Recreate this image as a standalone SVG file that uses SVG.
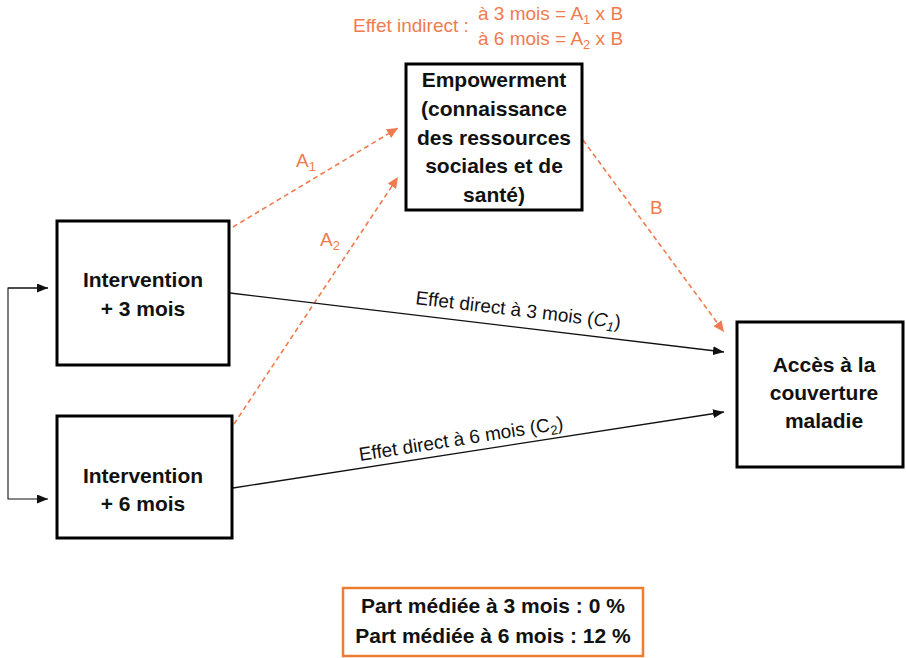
<svg xmlns="http://www.w3.org/2000/svg" width="906" height="658" viewBox="0 0 906 658">
<defs>
<style>
.box{fill:#fff;stroke:#000;stroke-width:3}
.nt{font-family:"Liberation Sans",Arial,sans-serif;font-weight:bold;font-size:21px;fill:#111;text-anchor:middle}
.or{font-family:"Liberation Sans",Arial,sans-serif;font-size:19px;fill:#F07B4E}
.lab{font-family:"Liberation Sans",Arial,sans-serif;font-size:19px;fill:#111}
.dash{fill:none;stroke:#F07B4E;stroke-width:1.6;stroke-dasharray:5 3.5}
.solid{fill:none;stroke:#111;stroke-width:1.3}
.thin{fill:none;stroke:#111;stroke-width:1.1}
</style>
<marker id="ao" markerUnits="userSpaceOnUse" markerWidth="12" markerHeight="10" refX="11" refY="5" orient="auto">
<path d="M0,0 L11,5 L0,10 z" fill="#F07B4E"/>
</marker>
<marker id="ab" markerUnits="userSpaceOnUse" markerWidth="12" markerHeight="9" refX="11" refY="4.5" orient="auto">
<path d="M0,0 L11,4.5 L0,9 z" fill="#111"/>
</marker>
</defs>
<rect width="906" height="658" fill="#fff"/>

<g id="connectors">
<path class="thin" d="M48,288 H8 V499 H48" marker-end="url(#ab)"/>
<path class="thin" d="M8,288 H48" marker-end="url(#ab)"/>
<line class="dash" x1="233" y1="227" x2="398" y2="128" marker-end="url(#ao)"/>
<line class="dash" x1="234" y1="424" x2="398" y2="177" marker-end="url(#ao)"/>
<line class="dash" x1="583" y1="140" x2="724" y2="332" marker-end="url(#ao)"/>
<line class="solid" x1="230" y1="293" x2="724" y2="352" marker-end="url(#ab)"/>
<line class="solid" x1="233" y1="488" x2="724" y2="412" marker-end="url(#ab)"/>
<text class="or" x="296" y="167">A<tspan font-size="13" dy="4">1</tspan></text>
<text class="or" x="320" y="246">A<tspan font-size="13" dy="4">2</tspan></text>
<text class="or" x="650" y="214">B</text>
<text class="lab" transform="translate(415,304) rotate(6.8)">Effet direct à 3 mois (<tspan font-style="italic">C</tspan><tspan font-style="italic" font-size="13" dy="4">1</tspan><tspan dy="-4">)</tspan></text>
<text class="lab" transform="translate(360,461) rotate(-8.9)">Effet direct à 6 mois (C<tspan font-size="13" dy="4">2</tspan><tspan dy="-4">)</tspan></text>
</g>

<g id="indirect-label">
<text class="or" x="353" y="32">Effet indirect :</text>
<text class="or" x="478" y="20">à 3 mois = A<tspan font-size="13" dy="4">1</tspan><tspan dy="-4"> x B</tspan></text>
<text class="or" x="478" y="45">à 6 mois = A<tspan font-size="13" dy="4">2</tspan><tspan dy="-4"> x B</tspan></text>
</g>

<g id="node-empowerment">
<rect class="box" x="406" y="64" width="176" height="146"/>
<text class="nt" x="494" y="87">Empowerment</text>
<text class="nt" x="494" y="116">(connaissance</text>
<text class="nt" x="494" y="145">des ressources</text>
<text class="nt" x="494" y="173">sociales et de</text>
<text class="nt" x="494" y="202">santé)</text>
</g>

<g id="node-intervention3">
<rect class="box" x="57" y="221" width="172" height="144"/>
<text class="nt" x="143" y="287">Intervention</text>
<text class="nt" x="143" y="316">+ 3 mois</text>
</g>

<g id="node-intervention6">
<rect class="box" x="57" y="416" width="175" height="122"/>
<text class="nt" x="143" y="483">Intervention</text>
<text class="nt" x="143" y="511">+ 6 mois</text>
</g>

<g id="node-acces">
<rect class="box" x="737" y="322" width="166" height="145"/>
<text class="nt" x="824" y="372">Accès à la</text>
<text class="nt" x="824" y="400">couverture</text>
<text class="nt" x="824" y="428">maladie</text>
</g>

<g id="node-part">
<rect x="343" y="588" width="300" height="68" fill="#fff" stroke="#ED7D31" stroke-width="2.5"/>
<text class="nt" x="493" y="613" font-size="19.5">Part  médiée à 3 mois : 0 %</text>
<text class="nt" x="493" y="643" font-size="19.5">Part  médiée à 6 mois : 12 %</text>
</g>
</svg>
